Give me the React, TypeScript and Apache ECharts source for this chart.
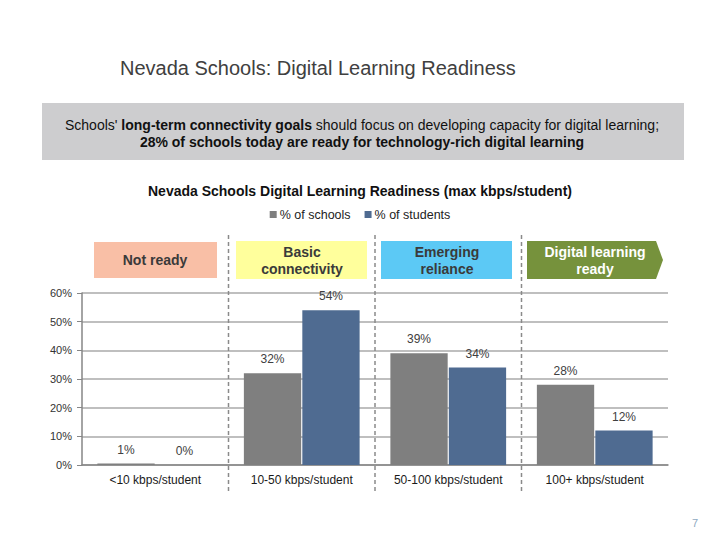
import React, { useEffect, useRef } from "react";
import * as echarts from "echarts";

const categories = ["<10 kbps/student", "10-50 kbps/student", "50-100 kbps/student", "100+ kbps/student"];
const seriesNames = ["% of schools", "% of students"];
const schools = [0.5, 32, 39, 28];
const students = [0, 54, 34, 12];
const yTicks = { min: 0, max: 60, interval: 10 };
const stageLabels = ["Not ready", "Basic\nconnectivity", "Emerging\nreliance", "Digital learning\nready"];

const FONT = "'Liberation Sans', Arial, sans-serif";
const GRID_LEFT = 82;
const GRID_RIGHT = 668;

export default function App() {
  const ref = useRef<HTMLDivElement>(null);
  useEffect(() => {
    document.body.style.margin = "0";
    const chart = echarts.init(ref.current!, null, { renderer: "svg" });
    const catW = (GRID_RIGHT - GRID_LEFT) / categories.length;
    const dividers = [1, 2, 3].map((i) => ({
      type: "line",
      shape: { x1: GRID_LEFT + catW * i, y1: 235, x2: GRID_LEFT + catW * i, y2: 492 },
      style: { stroke: "#8a8a8a", lineWidth: 1.5, lineDash: [4, 3] },
      z: 10,
    }));
    const boxes: any[] = [
      { type: "rect", shape: { x: 94, y: 242, width: 123, height: 36 }, style: { fill: "#F9BFA6" } },
      { type: "rect", shape: { x: 236, y: 241, width: 131, height: 38 }, style: { fill: "#FFFF9C" } },
      { type: "rect", shape: { x: 381, y: 241, width: 131, height: 38 }, style: { fill: "#5CC9F5" } },
      {
        type: "polygon",
        shape: { points: [[527, 241], [656, 241], [663, 260], [656, 279], [527, 279]] },
        style: { fill: "#76923C" },
      },
    ];
    const boxCenters = [155, 302, 447, 595];
    const boxTexts = stageLabels.map((t, i) => ({
      type: "text",
      x: boxCenters[i],
      y: 260,
      style: {
        text: t,
        fill: i === 3 ? "#ffffff" : "#3a3a3a",
        font: `bold 14px ${FONT}`,
        align: "center",
        verticalAlign: "middle",
        lineHeight: 17,
      },
      z: 5,
    }));
    const valueLabel = {
      show: true,
      position: "top",
      distance: 8,
      formatter: (p: any) => `${Math.round(p.value)}%`,
      fontFamily: FONT,
      fontSize: 12,
      color: "#404040",
    };
    chart.setOption({
      animation: false,
      backgroundColor: "#ffffff",
      title: {
        text: "Nevada Schools Digital Learning Readiness (max kbps/student)",
        left: "center",
        top: 179,
        textStyle: { fontFamily: FONT, fontSize: 14, fontWeight: "bold", color: "#111" },
      },
      legend: {
        top: 203,
        left: "center",
        itemWidth: 7,
        itemHeight: 7,
        itemGap: 14,
        icon: "rect",
        textStyle: { fontFamily: FONT, fontSize: 12.5, color: "#222", padding: [0, 0, 0, -2] },
        data: seriesNames,
      },
      grid: { left: GRID_LEFT, right: 720 - GRID_RIGHT, top: 293, bottom: 75, containLabel: false },
      xAxis: {
        type: "category",
        data: categories,
        axisLine: { lineStyle: { color: "#868686", width: 1.5 } },
        axisTick: { show: false },
        axisLabel: { interval: 0, fontFamily: FONT, fontSize: 12, color: "#1a1a1a", margin: 9 },
      },
      yAxis: {
        type: "value",
        min: yTicks.min,
        max: yTicks.max,
        interval: yTicks.interval,
        axisLine: { show: true, lineStyle: { color: "#868686", width: 1.5 } },
        axisTick: { show: true, length: 5, lineStyle: { color: "#868686" } },
        axisLabel: { formatter: "{value}%", fontFamily: FONT, fontSize: 11, color: "#333", margin: 10 },
        splitLine: { lineStyle: { color: "#BFBFBF", width: 2 } },
      },
      series: [
        {
          name: seriesNames[0],
          type: "bar",
          data: schools,
          barGap: "2%",
          barCategoryGap: "21%",
          itemStyle: { color: "#7F7F7F" },
          label: valueLabel,
        },
        {
          name: seriesNames[1],
          type: "bar",
          data: students,
          itemStyle: { color: "#4F6B91" },
          label: valueLabel,
        },
      ],
      graphic: [
        {
          type: "text",
          x: 120,
          y: 68,
          style: {
            text: "Nevada Schools: Digital Learning Readiness",
            font: `20px ${FONT}`,
            fill: "#404040",
            verticalAlign: "middle",
          },
        },
        { type: "rect", shape: { x: 42, y: 103, width: 642, height: 57 }, style: { fill: "#CDCDCF" } },
        {
          type: "text",
          x: 362,
          y: 133,
          style: {
            text:
              "{n|Schools' }{b|long-term connectivity goals}{n| should focus on developing capacity for digital learning;}\n{b|28% of schools today are ready for technology-rich digital learning}",
            align: "center",
            verticalAlign: "middle",
            fill: "#111",
            rich: {
              n: { font: `14px ${FONT}`, fill: "#111", lineHeight: 17 },
              b: { font: `bold 14px ${FONT}`, fill: "#111", lineHeight: 17 },
            },
          },
        },
        ...boxes,
        ...boxTexts,
        ...dividers,
        {
          type: "text",
          x: 695,
          y: 523,
          style: { text: "7", font: `11px ${FONT}`, fill: "#8EA9C1", align: "center", verticalAlign: "middle" },
        },
      ],
    });
    return () => chart.dispose();
  }, []);
  return <div ref={ref} style={{ width: 720, height: 540 }} />;
}
